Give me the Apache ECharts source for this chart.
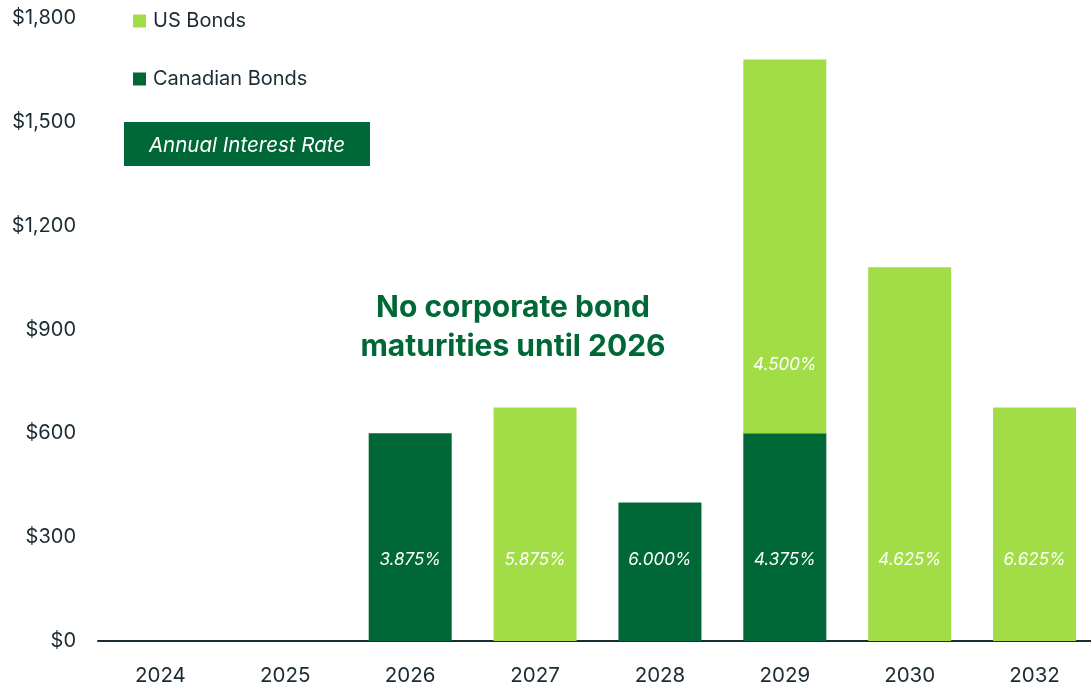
<!DOCTYPE html>
<html>
<head>
<meta charset="utf-8">
<script src="https://cdn.jsdelivr.net/npm/echarts@6/dist/echarts.min.js"></script>
<style>
  html, body {margin: 0; padding: 0; background: #fff; overflow: hidden;}
  #chart {width: 1100px; height: 687px;}
</style>
</head>
<body>
<div id="chart"></div>
<script>
(function(){
  'use strict';

  /*
    chart data
  */
  var years = ['2024', '2025', '2026', '2027', '2028', '2029', '2030', '2032'];
  var canadianBonds = [0, 0, 600, 0, 400, 600, 0, 0];
  var usBonds = [0, 0, 0, 675, 0, 1080, 1080, 675];
  var canadianRates = ['', '', '3.875%', '', '6.000%', '4.375%', '', ''];
  var usRates = ['', '', '', '5.875%', '', '4.500%', '4.625%', '6.625%'];
  var yTicks = [0, 300, 600, 900, 1200, 1500, 1800];

  var darkGreen = '#006837',
      lightGreen = '#a2dc47',
      textColor = '#1c2b33',
      font = 'Inter, "Noto Sans", sans-serif';

  /*
    bar data built from the arrays, empty values stay blank
  */
  var toItems = function(values, rates, stacked){
    return values.map(function(v, i){
      if(!v) return {value: null};
      var item = {value: v, label: {formatter: rates[i]}};
      if(stacked && stacked[i] > 0) item.label.distance = 60;
      return item;
    });
  };

  var barLabel = {
    show: true,
    position: 'insideBottom',
    distance: 73,
    color: '#fff',
    fontSize: 17,
    fontStyle: 'italic',
    fontFamily: font
  };

  // chart canvas is a little wider than the window: the last bar runs to the edge
  var option = {
    animation: false,
    textStyle: {fontFamily: font},
    grid: {left: 98, top: 18, width: 999, bottom: 46, containLabel: false},
    legend: {
      orient: 'vertical',
      left: 128,
      top: 6,
      itemWidth: 13,
      itemHeight: 13,
      itemGap: 38,
      icon: 'rect',
      textStyle: {color: textColor, fontSize: 20, fontFamily: font, padding: [0, 0, 0, 2]},
      data: ['US Bonds', 'Canadian Bonds']
    },
    xAxis: {
      type: 'category',
      data: years,
      axisTick: {show: false},
      axisLine: {lineStyle: {color: textColor, width: 2}},
      axisLabel: {color: textColor, fontSize: 20.5, margin: 24}
    },
    yAxis: {
      type: 'value',
      min: yTicks[0],
      max: yTicks[yTicks.length - 1],
      interval: 300,
      splitLine: {show: false},
      axisLabel: {
        color: textColor,
        fontSize: 20,
        margin: 22,
        formatter: function(v){ return '$' + v.toLocaleString('en-US'); }
      }
    },
    graphic: [
      {
        type: 'rect',
        left: 124, top: 122,
        shape: {width: 246, height: 44},
        style: {fill: darkGreen}
      },
      {
        type: 'text',
        x: 247, y: 146,
        style: {
          text: 'Annual Interest Rate', fill: '#fff', fontSize: 20.5, fontStyle: 'italic',
          align: 'center', verticalAlign: 'middle', fontFamily: font
        }
      },
      {
        type: 'text',
        x: 513, y: 327,
        style: {
          text: 'No corporate bond\nmaturities until 2026',
          fill: darkGreen,
          fontSize: 30,
          fontWeight: 'bold',
          lineHeight: 39,
          align: 'center',
          verticalAlign: 'middle',
          fontFamily: font
        }
      }
    ],
    series: [
      {
        name: 'Canadian Bonds',
        type: 'bar',
        stack: 'total',
        barWidth: 83,
        itemStyle: {color: darkGreen},
        label: barLabel,
        data: toItems(canadianBonds, canadianRates)
      },
      {
        name: 'US Bonds',
        type: 'bar',
        stack: 'total',
        barWidth: 83,
        itemStyle: {color: lightGreen},
        label: barLabel,
        data: toItems(usBonds, usRates, canadianBonds)
      }
    ]
  };

  echarts.init(document.getElementById('chart')).setOption(option);
})();
</script>
</body>
</html>
